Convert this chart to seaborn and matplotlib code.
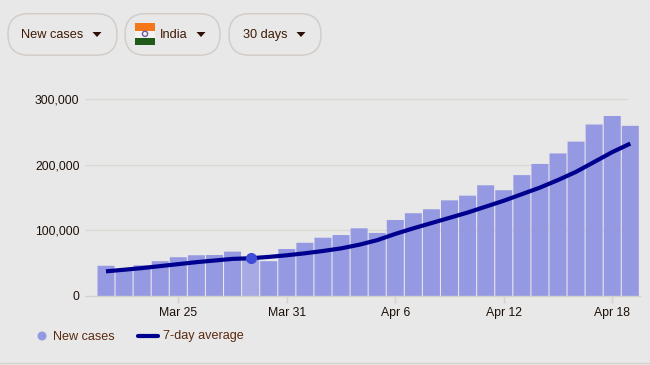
import matplotlib
matplotlib.use('Agg')
import matplotlib.pyplot as plt
from matplotlib.patches import FancyBboxPatch, Rectangle, Circle, Polygon
import numpy as np
import pandas as pd
import seaborn as sns

# datos
dias = list(pd.date_range('2021-03-21', '2021-04-19').strftime('%b %-d'))
casos = [46000, 39000, 46700, 53000, 59000, 62000, 62400, 67500, 59000, 53000,
         71500, 81000, 88700, 92800, 103000, 96000, 115700, 126000, 132000, 145600,
         152700, 168500, 161000, 184000, 201000, 217000, 235000, 261000, 274000, 259000]
promedio = [37500, 40000, 42500, 45500, 48500, 51500, 54000, 56500, 57500, 59500,
            62000, 65000, 68500, 72500, 78000, 85000, 94500, 103000, 111000, 119000,
            127000, 136000, 145000, 155000, 165000, 176500, 189000, 204000, 219000, 232000]
etiquetas_x = ['Mar 25', 'Mar 31', 'Apr 6', 'Apr 12', 'Apr 18']
valores_y = [0, 100000, 200000, 300000]
botones = ['New cases', 'India', '30 days']

W, H = 650, 365
FONDO = '#e8e8e8'
sns.set_theme(style='white')
plt.rcParams['font.family'] = ['Liberation Sans', 'DejaVu Sans']

df = pd.DataFrame({'dia': dias, 'casos': casos, 'promedio': promedio})
df['pos'] = np.arange(len(df))

fig = plt.figure(figsize=(W / 100, H / 100), dpi=100, facecolor=FONDO)
ax = fig.add_axes([85 / W, 1 - 296 / H, (640 - 85) / W, (296 - 84) / H])
ax.set_facecolor('none')

# barras y media
sns.barplot(data=df, x='pos', y='casos', color='#9599e2', saturation=1, width=0.94,
            native_scale=True, linewidth=0, ax=ax, zorder=2)
sns.lineplot(data=df, x='pos', y='promedio', color='#00008f', linewidth=3,
             solid_capstyle='butt', ax=ax, zorder=3)
for barra in ax.patches:
    barra.set_snap(False)

paso = 18.08
ax.set_xlim(-(106 - 85) / paso, (640 - 106) / paso)
ax.set_ylim(0, 212 / 65.7 * 100000)

# rejilla hasta x=628 px
fin = (628 - 106) / paso
ax.hlines(valores_y[1:], ax.get_xlim()[0], fin, color='#dcd9d5', linewidth=1, zorder=1)

# dia resaltado
i_res = dias.index('Mar 29')
ax.patches[i_res].set_facecolor('#a6a9e4')
ax.plot([i_res], [promedio[i_res]], 'o', color='#3f4cd8', ms=7, zorder=4)

for s in ['top', 'right', 'left']:
    ax.spines[s].set_visible(False)
ax.spines['bottom'].set_color('#d5d2ce')
ax.spines['bottom'].set_linewidth(1)

ax.set_xticks([dias.index(e) for e in etiquetas_x], etiquetas_x)
ax.set_yticks(valores_y, [f'{v:,}' for v in valores_y])
ax.tick_params(axis='x', length=5, width=1, color='#d5d2ce', labelsize=8.8,
               labelcolor='#1c1008', pad=3, bottom=True)
ax.tick_params(axis='y', length=0, labelsize=8.7, labelcolor='#1c1008', pad=4)
ax.set_xlabel('')
ax.set_ylabel('')

# capa de interfaz en pixeles
ui = fig.add_axes([0, 0, 1, 1], facecolor='none')
ui.set_xlim(0, W)
ui.set_ylim(H, 0)
ui.axis('off')

cajas = [(8, 117), (125, 220), (229, 321)]
textos_x = [21, 160, 243]
flechas_x = [97, 201, 301]
for (x0, x1), tx, fx, b in zip(cajas, textos_x, flechas_x, botones):
    ui.add_patch(FancyBboxPatch((x0 + 20.5, 34.2), x1 - x0 - 41, 0.5,
                                boxstyle='round,pad=20.5', fc='none', ec='#d3cdc9', lw=1.1))
    ui.text(tx, 35, b, fontsize=9.2, color='#3f1a06', va='center', ha='left')
    ui.add_patch(Polygon([[fx - 4.5, 32], [fx + 4.5, 32], [fx, 37]], fc='#2c1006', lw=0))

# bandera
ui.add_patch(Rectangle((135, 23), 20, 7.5, color='#f4781a', lw=0))
ui.add_patch(Rectangle((135, 30.5), 20, 7, color='#f4f2f0', lw=0))
ui.add_patch(Rectangle((135, 37.5), 20, 7, color='#1f5a1a', lw=0))
ui.add_patch(Circle((145, 33.8), 2.6, fc='none', ec='#6a5aa0', lw=1))

# leyenda
ui.add_patch(Circle((42, 336), 4.5, color='#9599e2', lw=0))
ui.text(53, 336.5, 'New cases', fontsize=9.1, color='#5a2a10', va='center')
ui.plot([138, 158], [336, 336], color='#00008f', lw=3, solid_capstyle='round')
ui.text(163, 336.5, '7-day average', fontsize=9.1, color='#5a2a10', va='center')
ui.plot([0, W], [363, 363], color='#d5d2ce', lw=1)

fig.savefig('out.png', dpi=100, facecolor=FONDO)
